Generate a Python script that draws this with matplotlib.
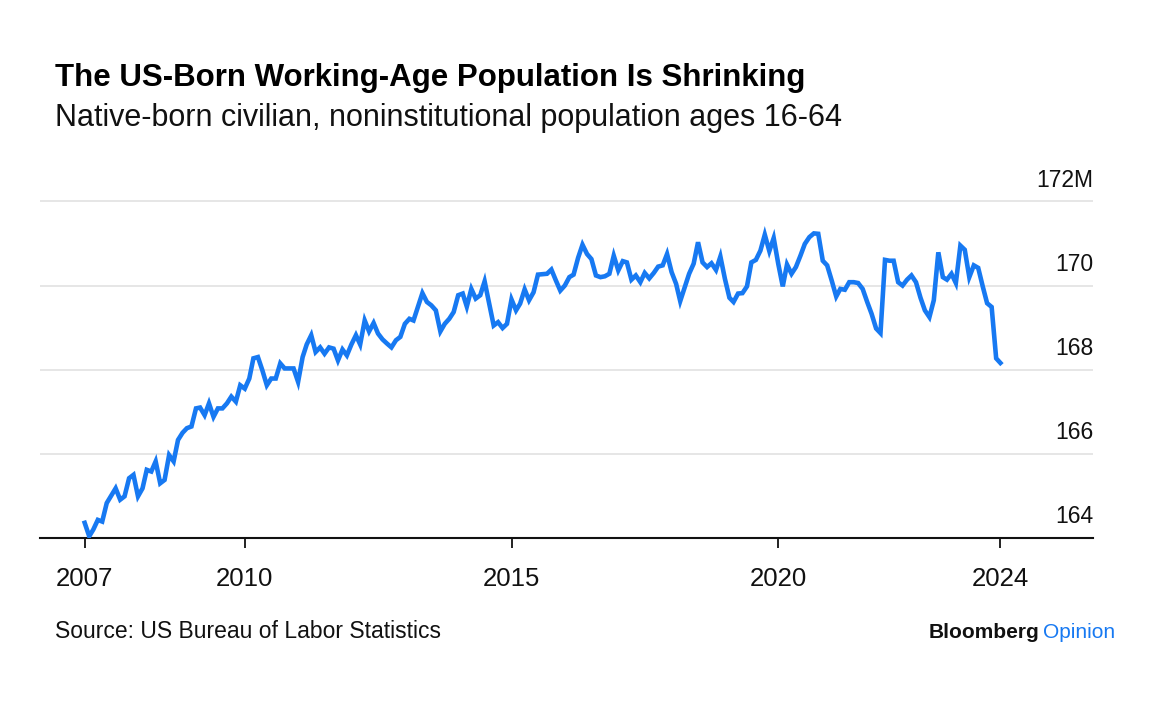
import matplotlib
matplotlib.use("Agg")
import matplotlib.pyplot as plt
import pandas as pd

# monthly values, millions (Jan 2007 onwards)
population = [
    164.36, 164.04, 164.20, 164.43, 164.39, 164.83, 165.00, 165.18, 164.91, 164.99, 165.42, 165.50,
    164.99, 165.18, 165.62, 165.58, 165.82, 165.30, 165.38, 165.97, 165.82, 166.33, 166.50, 166.61,
    166.65, 167.08, 167.10, 166.92, 167.20, 166.88, 167.08, 167.08, 167.20, 167.36, 167.24, 167.63,
    167.55, 167.79, 168.27, 168.30, 167.99, 167.63, 167.79, 167.79, 168.15, 168.03, 168.03, 168.03,
    167.71, 168.30, 168.60, 168.82, 168.42, 168.53, 168.38, 168.53, 168.50, 168.22, 168.48, 168.34,
    168.60, 168.82, 168.60, 169.17, 168.91, 169.11, 168.86, 168.72, 168.62, 168.53, 168.70, 168.78,
    169.09, 169.21, 169.17, 169.50, 169.82, 169.61, 169.53, 169.41, 168.91, 169.09, 169.21, 169.37,
    169.77, 169.81, 169.50, 169.92, 169.69, 169.77, 170.10, 169.57, 169.05, 169.13, 168.99, 169.09,
    169.67, 169.41, 169.57, 169.91, 169.65, 169.84, 170.26, 170.27, 170.28, 170.38, 170.12, 169.88,
    170.00, 170.20, 170.26, 170.66, 170.97, 170.75, 170.63, 170.24, 170.20, 170.22, 170.28, 170.71,
    170.36, 170.58, 170.55, 170.14, 170.24, 170.08, 170.30, 170.17, 170.30, 170.45, 170.48, 170.75,
    170.32, 170.04, 169.63, 169.96, 170.28, 170.52, 171.03, 170.55, 170.44, 170.53, 170.37, 170.69,
    170.16, 169.71, 169.61, 169.81, 169.82, 169.98, 170.55, 170.61, 170.83, 171.21, 170.82, 171.13,
    170.52, 169.98, 170.50, 170.28, 170.44, 170.71, 170.99, 171.15, 171.24, 171.23, 170.59, 170.48,
    170.12, 169.74, 169.92, 169.90, 170.08, 170.08, 170.06, 169.92, 169.61, 169.33, 168.98, 168.87,
    170.61, 170.59, 170.59, 170.08, 170.00, 170.14, 170.24, 170.08, 169.71, 169.41, 169.25, 169.65,
    170.79, 170.20, 170.14, 170.28, 170.06, 170.95, 170.85, 170.20, 170.48, 170.42, 169.98, 169.58,
    169.49, 168.27, 168.16,
]
dates = pd.date_range("2007-01-01", periods=len(population), freq="MS")

y_ticks = [164, 166, 168, 170, 172]
y_labels = ["164", "166", "168", "170", "172M"]
x_years = ["2010", "2015", "2020"]

plt.rcParams['font.family'] = ['Liberation Sans', 'DejaVu Sans']

fig = plt.figure(figsize=(11.69, 7.06), dpi=100)
ax = fig.add_axes([0.0342, 0.238, 0.9008, 0.4785])

ax.plot(dates, population, color='#1779f2', lw=3.3, solid_joinstyle='miter', zorder=3)

ax.set_ylim(164, 172.03)
ax.set_xlim(pd.Timestamp("2006-03-01"), pd.Timestamp("2025-11-25"))

# gridlines
for v in y_ticks[1:]:
    ax.axhline(v, color='#e6e6e6', lw=1.4, zorder=1)
ax.set_yticks([])

for s in ['top', 'right', 'left']:
    ax.spines[s].set_visible(False)
ax.spines['bottom'].set_linewidth(1.5)
ax.spines['bottom'].set_color('#111111')

# y labels sit above their gridlines on the right
for v, lab in zip(y_ticks, y_labels):
    ax.annotate(lab, xy=(1.0, v), xycoords=('axes fraction', 'data'),
                xytext=(0, 7), textcoords='offset points',
                ha='right', va='bottom', fontsize=16.5, color='#111111')

# x ticks: first point, round years, last point
xt = [dates[0]] + [pd.Timestamp(y + "-01-01") for y in x_years] + [dates[-1]]
ax.set_xticks(xt)
ax.set_xticklabels(["2007"] + x_years + ["2024"])
ax.tick_params(axis='x', direction='out', length=7, width=1.3, color='#111111',
               labelsize=18.5, pad=14, labelcolor='#111111')

fig.text(0.047, 0.878, "The US-Born Working-Age Population Is Shrinking",
         fontsize=22.5, fontweight='bold', color='#000000', va='baseline')
fig.text(0.047, 0.822, "Native-born civilian, noninstitutional population ages 16-64",
         fontsize=22, color='#111111', va='baseline')
fig.text(0.047, 0.096, "Source: US Bureau of Labor Statistics",
         fontsize=16.5, color='#111111', va='baseline')

t1 = fig.text(0.954, 0.096, "Opinion", fontsize=15, color='#1779f2',
              ha='right', va='baseline')
fig.canvas.draw()
bb = t1.get_window_extent()
fig.text(bb.x0 - 4, 0.096 * fig.bbox.height, "Bloomberg", fontsize=15, fontweight='bold',
         color='#111111', ha='right', va='baseline', transform=None)

fig.savefig("out.png", dpi=100)
